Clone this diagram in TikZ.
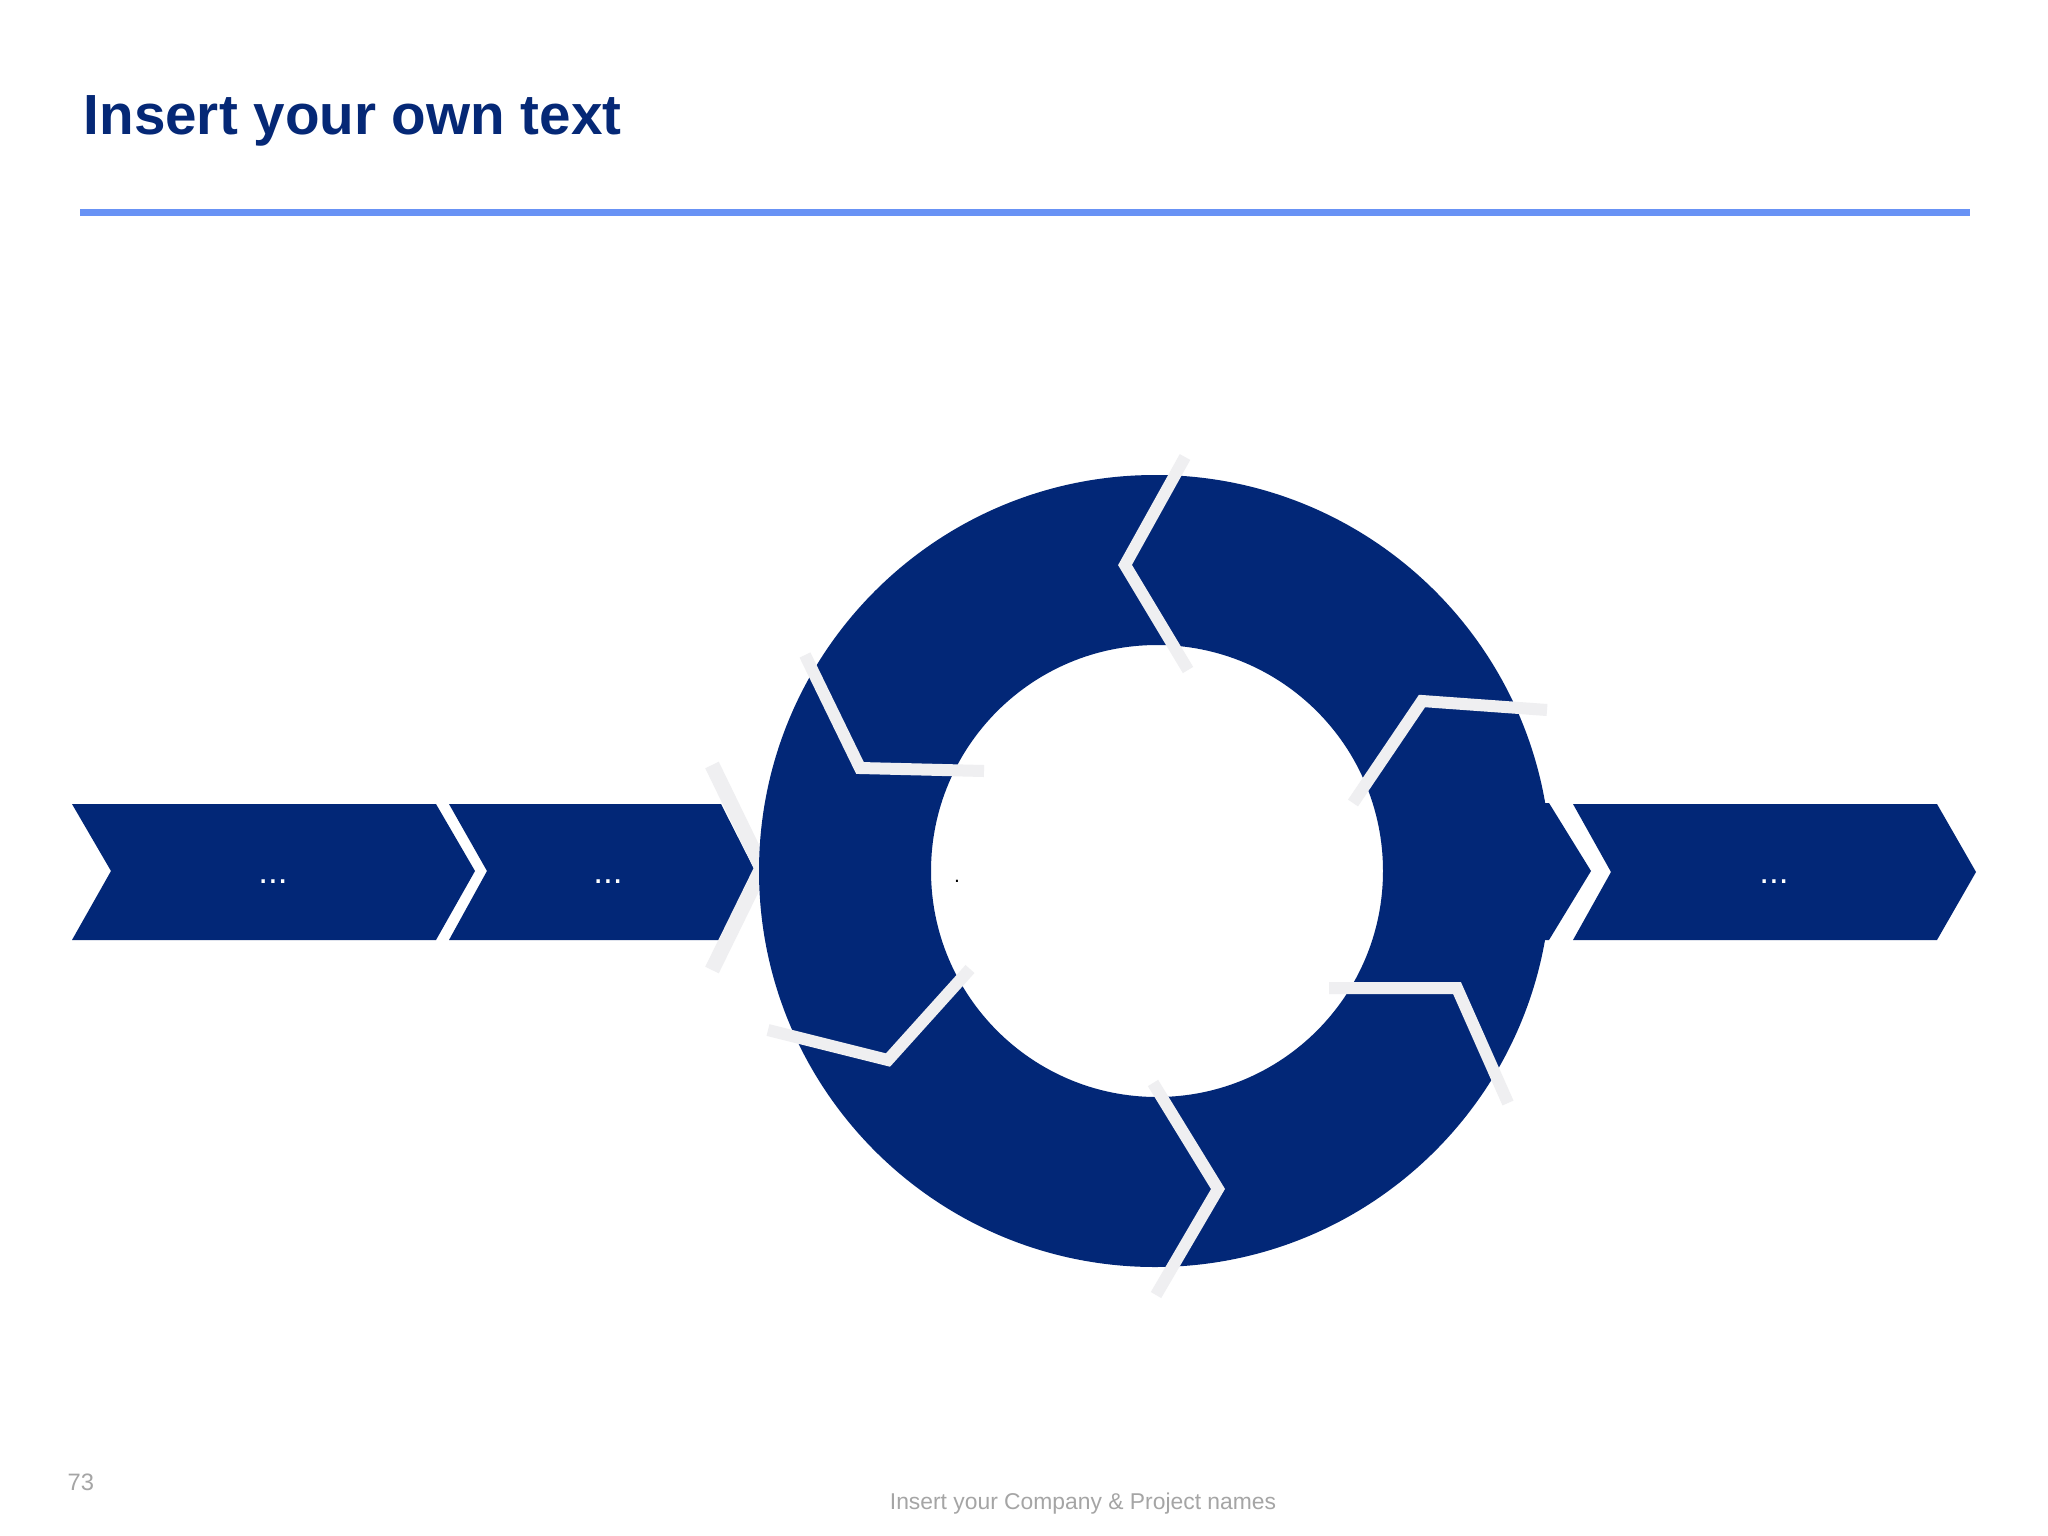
\documentclass[tikz,border=0pt]{standalone}
\usepackage{fontspec}
\setmainfont{Liberation Sans}
\definecolor{navy}{RGB}{2,39,119}
\definecolor{titleblue}{RGB}{5,40,118}
\definecolor{rule}{RGB}{104,146,245}
\definecolor{gap}{RGB}{239,239,241}
\definecolor{foot}{RGB}{165,165,165}
\tikzset{
  arrowfill/.style={fill=navy,draw=none},
  gapline/.style={draw=gap,line width=0.12cm,line cap=butt,line join=miter},
  dots/.style={text=white,font=\fontsize{10pt}{12pt}\selectfont,anchor=base,inner sep=0pt}
}
\begin{document}
\begin{tikzpicture}[x=0.01cm,y=-0.01cm]
\useasboundingbox (0,0) rectangle (2048,1536);
\fill[white] (0,0) rectangle (2048,1536);
% title and rule
\node[anchor=base west,inner sep=0pt,text=titleblue,font=\fontsize{16.1pt}{19pt}\selectfont\bfseries] (title) at (83,134) {Insert your own text};
\draw[rule,line width=0.07cm] (80,212.5) -- (1970,212.5);
% chevron arrows
\fill[arrowfill] (72,804) -- (436,804) -- (475,871) -- (436,940) -- (72,940) -- (111,871) -- cycle;
\fill[arrowfill] (449,804) -- (721,804) -- (755,871) -- (721,940) -- (449,940) -- (487,871) -- cycle;
\fill[arrowfill] (1573,804) -- (1937,804) -- (1976,872) -- (1937,940) -- (1573,940) -- (1611,872) -- cycle;
\draw[draw=gap,line width=0.15cm,line cap=butt] (712,765) -- (762,868) -- (712,970);
% ring
\fill[navy,even odd rule] (1155,871) circle[radius=396] (1157,871) circle[radius=226];
\fill[navy] (1530,803) -- (1549,803) -- (1591,871) -- (1549,940) -- (1530,940) -- cycle;
% gaps between ring segments
\draw[gapline] (1185,457) -- (1125,565) -- (1188,670);
\draw[gapline] (1547,710) -- (1422,701) -- (1353,803);
\draw[gapline] (1329,988) -- (1457,988) -- (1508,1103);
\draw[gapline] (1153,1083) -- (1218,1189) -- (1156,1295);
\draw[gapline] (970,969) -- (888,1060) -- (768,1030);
\draw[gapline] (805,655) -- (860,768) -- (984,771);
% texts
\node[dots] (t1) at (273,883) {...};
\node[dots] (t2) at (608,883) {...};
\node[dots] (t3) at (1774,883) {...};
\node[anchor=base,inner sep=0pt,font=\fontsize{6pt}{7pt}\selectfont] (c) at (957,882) {.};
\node[anchor=base west,inner sep=0pt,text=foot,font=\fontsize{6.75pt}{8pt}\selectfont] (page) at (67,1490) {73};
\node[anchor=base,inner sep=0pt,text=foot,font=\fontsize{6.5pt}{8pt}\selectfont] (footer) at (1083,1509) {Insert your Company \& Project names};
\end{tikzpicture}
\end{document}
